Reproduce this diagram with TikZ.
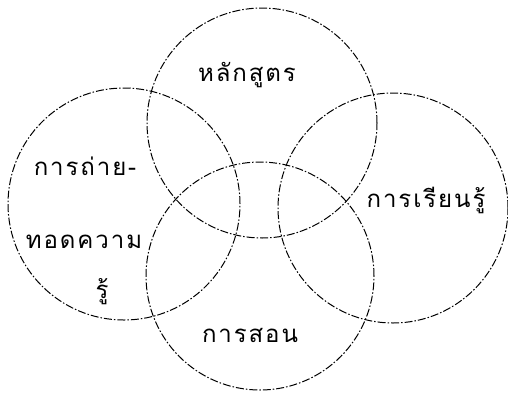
\documentclass[tikz,border=0pt]{standalone}
\usepackage{fontspec}
\newfontfamily\thaifont[Script=Thai,LetterSpace=8]{Loma}
\usetikzlibrary{positioning}
\tikzset{
  ring/.style={draw, line width=1pt, dash pattern=on 8pt off 2pt on 1.5pt off 2pt},
  thaitext/.style={font=\thaifont\fontsize{24}{28}\selectfont, inner sep=0pt}
}

\begin{document}
\begin{tikzpicture}[x=1pt,y=-1pt]
\useasboundingbox (0,0) rectangle (508,394);
% Four overlapping circles
\coordinate (curr) at (262,123);
\coordinate (learn) at (393,208);
\coordinate (transfer) at (124,204);
\coordinate (teach) at (260,276);

\draw[ring] (curr) circle[radius=115pt];
\draw[ring] (learn) circle[radius=115pt];
\draw[ring] (transfer) circle[radius=116pt];
\draw[ring] (teach) circle[radius=114pt];

% Labels
\node[thaitext] (currtext) at (247,75) {หลักสูตร};
\node[thaitext] (learntext) at (426,200) {การเรียนรู้};
\node[thaitext] (transfertexta) at (85,166) {การถ่าย-};
\node[thaitext] (transfertextb) at (84,242) {ทอดความ};
\node[thaitext] (transfertextc) at (102,292) {รู้};
\node[thaitext] (teachtext) at (250,335) {การสอน};
\end{tikzpicture}
\end{document}
